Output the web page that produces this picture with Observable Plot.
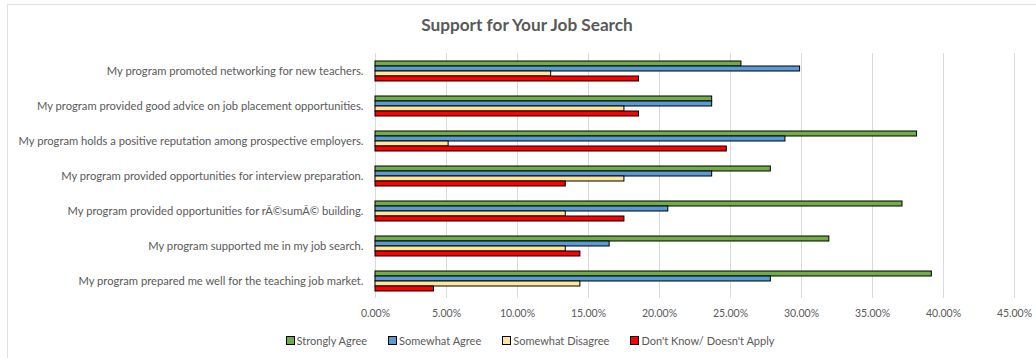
<!DOCTYPE html>
<html>
<head>
<meta charset="utf-8">
<script src="https://cdn.jsdelivr.net/npm/d3@7"></script>
<script src="https://cdn.jsdelivr.net/npm/@observablehq/plot@0.6"></script>
<style>
  html, body { margin: 0; padding: 0; background: #fff; }
  body { width: 1036px; height: 358px; position: relative; overflow: hidden; font-family: Lato, "Open Sans", sans-serif; }
  #frame { position: absolute; left: 7px; top: 4px; width: 1040px; height: 400px; border-left: 1px solid #e0e0e0; border-top: 1px solid #e0e0e0; box-sizing: border-box; }
  #title { position: absolute; left: 0; width: 1054px; top: 14px; text-align: center; font-weight: bold; font-size: 17.2px; color: #595959; }
  #chart { position: absolute; left: 0; top: 40px; }
  #legend { position: absolute; top: 334px; left: 0; width: 1036px; display: flex; justify-content: center; gap: 21px; font-size: 11px; color: #595959; padding-left: 24px; box-sizing: border-box; }
  .item { display: flex; align-items: center; }
  .sw { width: 7px; height: 7px; border: 1px solid #000; margin-right: 2px; }
</style>
</head>
<body>
<div id="frame"></div>
<div id="title">Support for Your Job Search</div>
<div id="chart"></div>
<div id="legend"></div>
<script>
const categories = [
  "My program promoted networking for new teachers.",
  "My program provided good advice on job placement opportunities.",
  "My program holds a positive reputation among prospective employers.",
  "My program provided opportunities for interview preparation.",
  "My program provided opportunities for rÃ©sumÃ© building.",
  "My program supported me in my job search.",
  "My program prepared me well for the teaching job market."
];
const seriesNames = ["Strongly Agree", "Somewhat Agree", "Somewhat Disagree", "Don't Know/ Doesn't Apply"];
const seriesColors = ["#70AD47", "#5B9BD5", "#FFE699", "#FF0000"];
const stronglyAgree     = [0.2577, 0.2371, 0.3814, 0.2784, 0.3711, 0.3196, 0.3918];
const somewhatAgree     = [0.2990, 0.2371, 0.2887, 0.2371, 0.2062, 0.1649, 0.2784];
const somewhatDisagree  = [0.1237, 0.1753, 0.0515, 0.1753, 0.1340, 0.1340, 0.1443];
const dontKnow          = [0.1856, 0.1856, 0.2474, 0.1340, 0.1753, 0.1443, 0.0412];
const xTicks = [0, 0.05, 0.10, 0.15, 0.20, 0.25, 0.30, 0.35, 0.40, 0.45];

const seriesValues = [stronglyAgree, somewhatAgree, somewhatDisagree, dontKnow];
const data = [];
categories.forEach((c, i) => {
  seriesNames.forEach((s, j) => {
    data.push({category: c, series: s, value: seriesValues[j][i]});
  });
});

const chart = Plot.plot({
  width: 1036,
  height: 288,
  marginLeft: 375,
  marginRight: 22,
  marginTop: 13,
  marginBottom: 30,
  style: {fontFamily: "Lato, 'Open Sans', sans-serif", fontSize: "11.2px", color: "#595959", background: "transparent"},
  x: {domain: [0, 0.45], ticks: xTicks, tickFormat: d3.format(".2%"), label: null},
  y: {domain: seriesNames, paddingInner: 0, paddingOuter: 0.92, axis: null},
  fy: {domain: categories, padding: 0, label: null},
  color: {domain: seriesNames, range: seriesColors},
  marks: [
    Plot.gridX(xTicks, {stroke: "#d9d9d9", strokeOpacity: 1, strokeWidth: 1}),
    Plot.barX(data, {x: "value", y: "series", fy: "category", fill: "series", stroke: "#000", strokeWidth: 1}),
    Plot.axisX({ticks: xTicks, tickFormat: d3.format(".2%"), tickSize: 0, tickPadding: 11, label: null, facetAnchor: "bottom", fontSize: "10.5px"}),
    Plot.axisFy({anchor: "left", tickSize: 0, tickPadding: 12, label: null})
  ]
});
document.getElementById("chart").appendChild(chart);

const legend = document.getElementById("legend");
seriesNames.forEach((s, j) => {
  const it = document.createElement("div");
  it.className = "item";
  const sw = document.createElement("div");
  sw.className = "sw";
  sw.style.background = seriesColors[j];
  const t = document.createElement("span");
  t.textContent = s;
  it.appendChild(sw);
  it.appendChild(t);
  legend.appendChild(it);
});
</script>
</body>
</html>
